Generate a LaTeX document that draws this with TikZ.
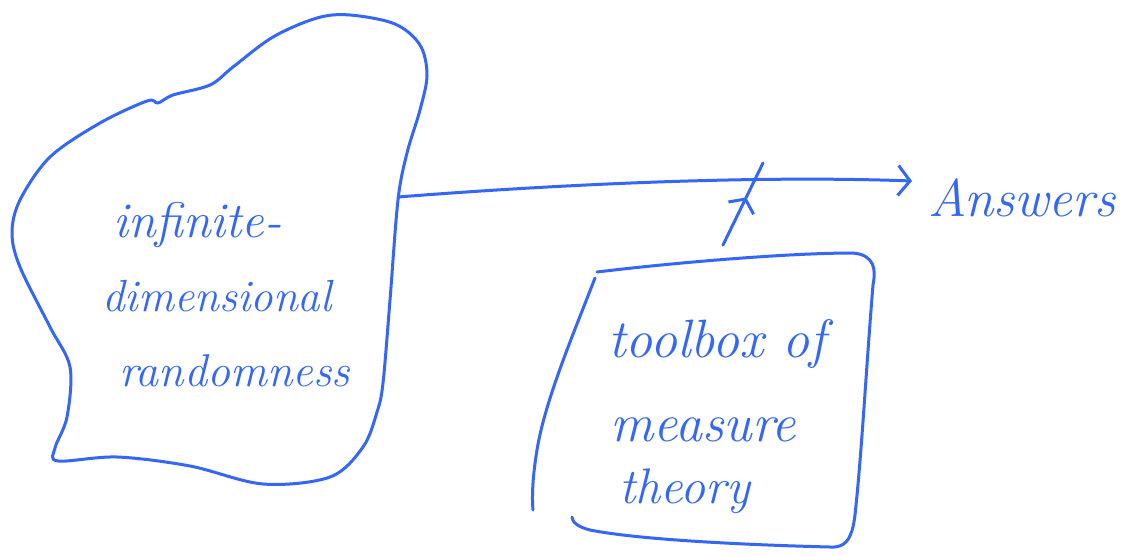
\documentclass[tikz,border=0pt]{standalone}
\usetikzlibrary{arrows.meta,decorations.markings}
\definecolor{ink}{RGB}{52,103,246}
\begin{document}
\begin{tikzpicture}[x=1pt,y=-1pt,
  pen/.style={draw=ink,line width=3pt,line cap=round,line join=round},
  hand/.style={text=ink,font=\itshape,inner sep=0pt,anchor=base west},
  fs/.style={font=\fontsize{#1}{#1}\selectfont\itshape}]
\useasboundingbox[fill=white] (0,0) rectangle (1122,555);
% blob
\draw[pen] plot[smooth cycle,tension=0.55] coordinates {
 (350,15) (395,24) (420,45) (427,75) (420,110) (407,153) (398,200) (390,300)
 (383,383) (377,412) (363,447) (330,477) (263,484) (190,466) (117,457) (58,461)
 (55,448) (67,417) (70,367) (50,327) (20,267) (12,233) (20,200) (50,157)
 (100,123) (147,101) (158,103) (173,95) (210,85) (233,67) (273,37) (317,18)};
\node[hand,fs=50] (l1) at (113,237) {infinite-};
\node[hand,fs=45] (l2) at (102,311) {dimensional};
\node[hand,fs=46] (l3) at (119,386) {randomness};
% box
\draw[pen] (597,272) .. controls (680,262) and (790,253) .. (853,253)
  .. controls (875,255) and (876,270) .. (873,285)
  .. controls (866,370) and (862,450) .. (855,515)
  .. controls (852,540) and (845,548) .. (830,547)
  .. controls (750,545) and (640,540) .. (590,530)
  .. controls (578,527) and (572,522) .. (572,517);
\draw[pen] (595,278) .. controls (575,330) and (545,400) .. (537,450)
  .. controls (532,480) and (532,500) .. (533,510);
\node[hand,fs=54] (t1) at (608,357) {toolbox of};
\node[hand,fs=54] (t2) at (610,441) {measure};
\node[hand,fs=50] (t3) at (619,503) {theory};
% answers
\node[hand,fs=53] (ans) at (928,216) {Answers};
\coordinate (blobedge) at (398,197);
\coordinate (tip) at (912,181);
\coordinate (boxtop) at (723,245);
\coordinate (cross) at (763,163);
\draw[pen,-{Straight Barb[length=12pt,width=30pt,line width=3pt]}]
  (blobedge) .. controls (550,185) and (750,175) .. (tip);
\draw[pen,postaction={decorate},decoration={markings,
  mark=at position 0.58 with {\arrow{Straight Barb[length=10pt,width=28pt,line width=3pt]}}}]
  (boxtop) -- (cross);
\end{tikzpicture}
\end{document}
